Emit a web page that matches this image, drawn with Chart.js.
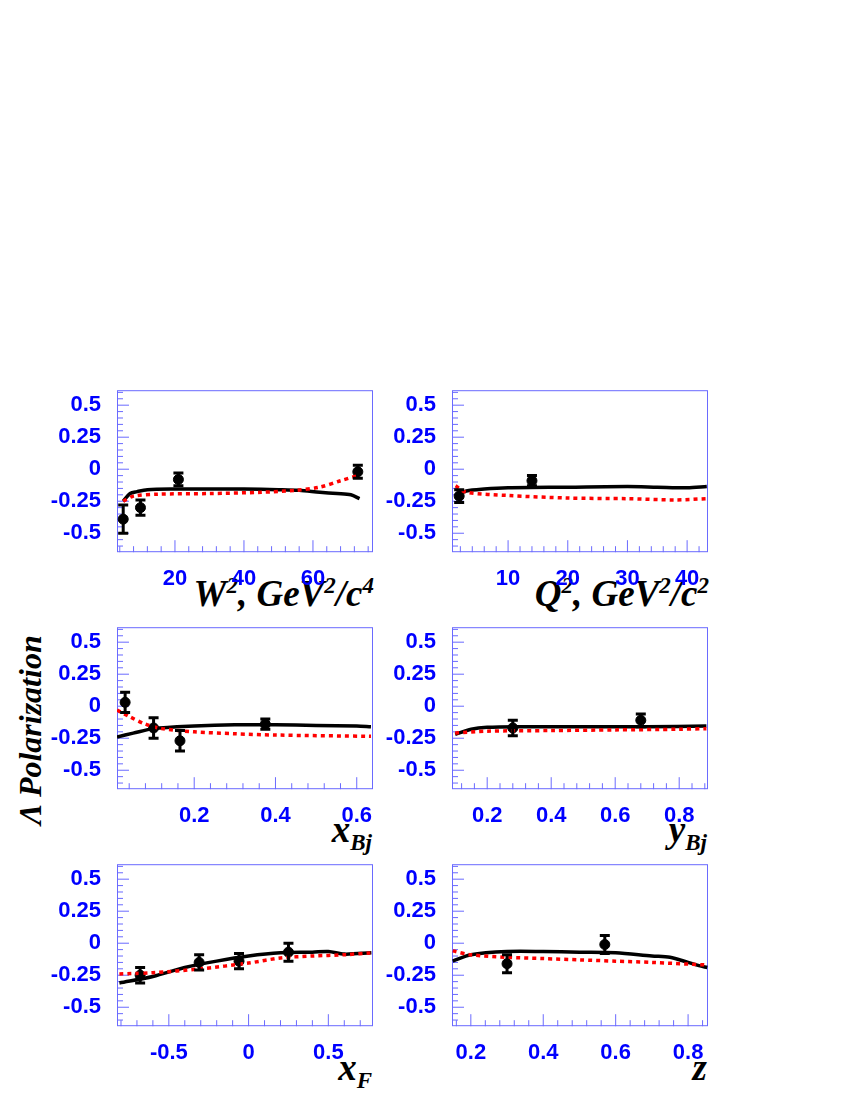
<!DOCTYPE html>
<html>
<head>
<meta charset="utf-8">
<script src="https://cdn.jsdelivr.net/npm/chart.js@4/dist/chart.umd.min.js"></script>
<style>
  body { margin: 0; background: #fff; width: 850px; height: 1100px; position: relative; overflow: hidden; }
  .panel { position: absolute; }
  .xt { position: absolute; font-family: 'Liberation Serif', serif; font-style: italic; font-weight: bold; font-size: 37px; color: #000; white-space: nowrap; }
  .xt sub { font-size: 23px; }
  .xt sup { font-size: 23px; }
  #ylab { position: absolute; left: 30px; top: 730px; transform: translate(-50%, -50%) rotate(-90deg);
    font-family: 'Liberation Serif', serif; font-style: italic; font-weight: bold; font-size: 32px; white-space: nowrap; }
</style>
</head>
<body>
<div id="ylab">Λ Polarization</div>
<div class="xt" style="right:476px;top:572px">W<sup>2</sup>, GeV<sup>2</sup>/c<sup>4</sup></div>
<div class="xt" style="right:141px;top:572px">Q<sup>2</sup>, GeV<sup>2</sup>/c<sup>2</sup></div>
<div class="xt" style="right:478px;top:808px">x<sub>Bj</sub></div>
<div class="xt" style="right:143px;top:808px">y<sub>Bj</sub></div>
<div class="xt" style="right:478px;top:1046px">x<sub>F</sub></div>
<div class="xt" style="right:143px;top:1046px">z</div>
<script>
const yTicks = [-0.5, -0.25, 0, 0.25, 0.5]

// W^2
const w2Range = [3.2, 77.4]
const w2Ticks = [20, 40, 60]
const w2Pts = [[5, -0.39, 0.11], [10, -0.30, 0.06], [21, -0.08, 0.05], [73, -0.02, 0.05]]
const w2Black = [[5, -0.25], [7, -0.19], [9, -0.175], [12, -0.16], [20, -0.155], [30, -0.155], [40, -0.155], [50, -0.16], [56, -0.165], [62, -0.18], [67, -0.19], [71, -0.2], [73.5, -0.23]]
const w2Red = [[5, -0.25], [8, -0.21], [15, -0.195], [30, -0.19], [45, -0.18], [55, -0.165], [62, -0.14], [68, -0.09], [73, -0.05]]

// Q^2
const q2Range = [0.6, 43.5]
const q2Ticks = [10, 20, 30, 40]
const q2Pts = [[1.8, -0.21, 0.05], [14, -0.09, 0.04]]
const q2Black = [[1.5, -0.2], [3, -0.17], [6, -0.155], [10, -0.145], [20, -0.14], [30, -0.135], [35, -0.14], [40, -0.145], [43.3, -0.135]]
const q2Red = [[1.2, -0.13], [3, -0.18], [10, -0.205], [20, -0.225], [30, -0.23], [38, -0.24], [43.3, -0.23]]

// x_Bj
const xbRange = [0.01, 0.64]
const xbTicks = [0.2, 0.4, 0.6]
const xbPts = [[0.03, 0.03, 0.08], [0.1, -0.17, 0.08], [0.165, -0.27, 0.08], [0.375, -0.14, 0.04]]
const xbBlack = [[0.01, -0.24], [0.05, -0.21], [0.1, -0.175], [0.2, -0.155], [0.3, -0.145], [0.4, -0.145], [0.5, -0.15], [0.6, -0.155], [0.635, -0.16]]
const xbRed = [[0.01, -0.03], [0.04, -0.08], [0.08, -0.14], [0.12, -0.175], [0.2, -0.2], [0.3, -0.215], [0.4, -0.225], [0.635, -0.235]]

// y_Bj
const ybRange = [0.09, 0.89]
const ybTicks = [0.2, 0.4, 0.6, 0.8]
const ybPts = [[0.28, -0.17, 0.06], [0.68, -0.11, 0.05]]
const ybBlack = [[0.1, -0.22], [0.15, -0.18], [0.2, -0.165], [0.3, -0.16], [0.5, -0.16], [0.7, -0.16], [0.885, -0.155]]
const ybRed = [[0.1, -0.21], [0.2, -0.195], [0.4, -0.19], [0.6, -0.185], [0.8, -0.18], [0.885, -0.175]]

// x_F
const xfRange = [-0.825, 0.78]
const xfTicks = [-0.5, 0, 0.5]
const xfPts = [[-0.68, -0.25, 0.06], [-0.31, -0.15, 0.06], [-0.06, -0.14, 0.06], [0.25, -0.07, 0.07]]
const xfBlack = [[-0.81, -0.31], [-0.6, -0.26], [-0.4, -0.19], [-0.2, -0.14], [0, -0.10], [0.2, -0.075], [0.4, -0.07], [0.5, -0.065], [0.6, -0.085], [0.77, -0.075]]
const xfRed = [[-0.81, -0.24], [-0.6, -0.23], [-0.3, -0.2], [0, -0.155], [0.2, -0.115], [0.4, -0.1], [0.6, -0.09], [0.77, -0.075]]

// z
const zRange = [0.148, 0.855]
const zTicks = [0.2, 0.4, 0.6, 0.8]
const zPts = [[0.3, -0.16, 0.07], [0.57, -0.01, 0.07]]
const zBlack = [[0.15, -0.14], [0.2, -0.09], [0.3, -0.065], [0.4, -0.065], [0.5, -0.07], [0.6, -0.075], [0.7, -0.1], [0.75, -0.11], [0.8, -0.15], [0.83, -0.175], [0.853, -0.19]]
const zRed = [[0.15, -0.06], [0.2, -0.09], [0.3, -0.11], [0.4, -0.12], [0.5, -0.13], [0.6, -0.14], [0.7, -0.15], [0.853, -0.17]]

const panels = [
  { left: 117, top: 390, range: w2Range, ticks: w2Ticks, pts: w2Pts, black: w2Black, red: w2Red },
  { left: 452, top: 390, range: q2Range, ticks: q2Ticks, pts: q2Pts, black: q2Black, red: q2Red },
  { left: 117, top: 627, range: xbRange, ticks: xbTicks, pts: xbPts, black: xbBlack, red: xbRed },
  { left: 452, top: 627, range: ybRange, ticks: ybTicks, pts: ybPts, black: ybBlack, red: ybRed },
  { left: 117, top: 864, range: xfRange, ticks: xfTicks, pts: xfPts, black: xfBlack, red: xfRed },
  { left: 452, top: 864, range: zRange, ticks: zTicks, pts: zPts, black: zBlack, red: zRed },
]

const YW = 70, XH = 40, PW = 256, PH = 162

// frame, inward tick marks and error bars
const framePlugin = {
  id: 'frame',
  beforeDatasetsDraw(chart) {
    const { ctx, chartArea: a, scales: { x, y } } = chart
    ctx.save()
    ctx.strokeStyle = '#6a6aff'
    ctx.lineWidth = 1
    ctx.strokeRect(a.left + 0.5, a.top + 0.5, a.width - 1, a.height - 1)
    const xs = chart.options.xMajors
    const step = xs[1] - xs[0]
    ctx.beginPath()
    for (let k = -20; k <= 60; k++) {
      const v = xs[0] + k * step / 5
      if (v < x.min || v > x.max) continue
      const px = x.getPixelForValue(v)
      const len = k % 5 === 0 ? 12 : 6
      ctx.moveTo(px, a.bottom); ctx.lineTo(px, a.bottom - len)
    }
    for (let k = -30; k <= 30; k++) {
      const v = k * 0.05
      if (v < y.min || v > y.max) continue
      const py = y.getPixelForValue(v)
      const len = k % 5 === 0 ? 12 : 6
      ctx.moveTo(a.left, py); ctx.lineTo(a.left + len, py)
    }
    ctx.stroke()
    ctx.restore()
  },
  afterDatasetsDraw(chart) {
    const { ctx, scales: { x, y } } = chart
    ctx.save()
    ctx.strokeStyle = '#000'
    ctx.lineWidth = 3
    chart.options.errPts.forEach(([px, py, e]) => {
      const cx = x.getPixelForValue(px)
      const t = y.getPixelForValue(py + e), b = y.getPixelForValue(py - e)
      ctx.beginPath()
      ctx.moveTo(cx, t); ctx.lineTo(cx, b)
      ctx.moveTo(cx - 5, t); ctx.lineTo(cx + 5, t)
      ctx.moveTo(cx - 5, b); ctx.lineTo(cx + 5, b)
      ctx.stroke()
    })
    ctx.restore()
  }
}

const tickFont = { family: "'Liberation Sans', Arial, sans-serif", size: 22, weight: 'bold' }

panels.forEach(p => {
  const c = document.createElement('canvas')
  const div = document.createElement('div')
  div.className = 'panel'
  let w = YW + PW + 2, h = PH + XH
  div.style.left = (p.left - YW) + 'px'
  div.style.top = p.top + 'px'
  div.style.width = w + 'px'
  div.style.height = h + 'px'
  div.appendChild(c)
  document.body.appendChild(div)
  const toXY = arr => arr.map(([x, y]) => ({ x, y }))
  const chart = new Chart(c, {
    type: 'scatter',
    data: {
      datasets: [
        { data: toXY(p.red), showLine: true, borderColor: '#ff0000', borderWidth: 3.5, borderDash: [4, 4], pointRadius: 0, tension: 0.3 },
        { data: toXY(p.black), showLine: true, borderColor: '#000', borderWidth: 3.5, pointRadius: 0, tension: 0.3 },
        { data: toXY(p.pts), pointRadius: 5, backgroundColor: '#000', borderColor: '#000' },
      ]
    },
    options: {
      animation: false,
      responsive: true,
      maintainAspectRatio: false,
      errPts: p.pts,
      xMajors: p.ticks,
      layout: { padding: 0 },
      plugins: { legend: { display: false }, tooltip: { enabled: false } },
      scales: {
        x: {
          min: p.range[0], max: p.range[1],
          afterBuildTicks: s => { s.ticks = p.ticks.map(v => ({ value: v })) },
          afterFit: s => { s.height = XH },
          grid: { display: false }, border: { display: false },
          ticks: { color: '#0000ff', font: tickFont, padding: 6, maxRotation: 0, autoSkip: false, callback: v => String(v) },
        },
        y: {
          min: -0.648, max: 0.617,
          afterBuildTicks: s => { s.ticks = yTicks.map(v => ({ value: v })) },
          afterFit: s => { s.width = YW },
          grid: { display: false }, border: { display: false },
          ticks: { color: '#0000ff', font: tickFont, padding: 8, autoSkip: false, callback: v => String(v) },
        }
      }
    },
    plugins: [framePlugin]
  })
  // align the plot area with the reference frame
  const a = chart.chartArea
  w += PW - a.width
  h += PH - a.height
  div.style.left = (p.left - a.left) + 'px'
  div.style.top = (p.top - a.top) + 'px'
  div.style.width = w + 'px'
  div.style.height = h + 'px'
  chart.resize()
})
</script>
</body>
</html>
